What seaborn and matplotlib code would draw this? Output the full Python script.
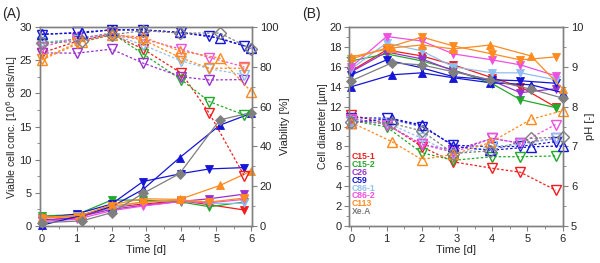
import matplotlib
matplotlib.use("Agg")
import matplotlib.pyplot as plt
import seaborn as sns
from matplotlib.ticker import MultipleLocator

# sampling days: "v" lines and the "^"/diamond lines were sampled at slightly different times
days_v = [0, 1, 2, 2.9, 4, 4.8, 5.8]
days_t = [0, 1.15, 2, 2.9, 3.95, 5.1, 6]

lines_v = ["C15-1", "C15-2", "C26", "C59", "C86-1", "C86-2", "C113"]
lines_t = ["C59", "C113", "Xe.A"]
legend_names = ["C15-1", "C15-2", "C26", "C59", "C86-1", "C86-2", "C113", "Xe.A"]

colors = {"C15-1": "#f21c1c", "C15-2": "#22a82a", "C26": "#9b30d0", "C59": "#1515d8",
          "C86-1": "#8fbff0", "C86-2": "#f050e0", "C113": "#ff8a1e", "Xe.A": "#7f7f7f"}

# (A) viable cell conc. [10^6 cells/mL]
vcd_v = {"C15-1": [0.9, 1.2, 2.8, 3.3, 3.8, 3.2, 2.4],
         "C15-2": [1.5, 1.7, 3.9, 3.9, 3.6, 2.9, 3.6],
         "C26": [0.8, 1.3, 2.5, 3.1, 3.7, 4.1, 4.8],
         "C59": [1.2, 1.8, 3.3, 6.7, 7.9, 8.6, 8.8],
         "C86-1": [1.1, 1.5, 2.8, 3.6, 3.9, 3.4, 3.4],
         "C86-2": [0.7, 1.0, 2.3, 3.0, 3.7, 3.5, 4.0],
         "C113": [1.2, 1.4, 3.0, 3.6, 3.9, 3.6, 4.2]}
vcd_t = {"C59": [0.1, 1.6, 2.9, 5.5, 10.3, 15.2, 17.0],
         "C113": [1.3, 1.6, 3.2, 4.1, 4.0, 6.1, 8.3],
         "Xe.A": [0.5, 0.75, 2.0, 4.9, 7.9, 16.0, 17.1]}

# (A) viability [%]
via_v = {"C15-1": [87, 92.8, 96.5, 89, 76.8, 56.6, 25.2],
         "C15-2": [92, 94, 97, 86.5, 73.5, 62.5, 55.8],
         "C26": [87, 86.9, 88.9, 81.9, 75, 73.4, 73.6],
         "C59": [96.2, 97.3, 98.6, 98.6, 97.3, 95.6, 90.6],
         "C86-1": [92.5, 93.5, 96.5, 91, 83, 79, 76],
         "C86-2": [90, 94.5, 96.5, 94, 88.9, 84.7, 80],
         "C113": [84, 92, 96, 93.6, 84.4, 79.3, 79.3]}
via_t = {"C59": [96.5, 97, 98.6, 98.6, 97.3, 94.4, 89.4],
         "C113": [83.5, 92.5, 96, 95, 88, 84.4, 67.5],
         "Xe.A": [92, 92.8, 96.1, 98.2, 97, 97, 89]}

# (B) cell diameter [um]
dia_v = {"C15-1": [15.6, 17.7, 17.1, 16.2, 14.9, 14.0, 11.95],
         "C15-2": [16.6, 17.3, 16.6, 15.7, 14.3, 12.7, 11.9],
         "C26": [15.5, 17.5, 16.8, 15.6, 14.6, 13.4, 13.8],
         "C59": [15.2, 16.7, 15.9, 15.0, 14.7, 14.6, 14.35],
         "C86-1": [15.8, 18.4, 17.6, 16.0, 15.4, 15.4, 14.7],
         "C86-2": [16.0, 19.05, 18.6, 17.3, 16.7, 16.2, 15.1],
         "C113": [16.8, 17.9, 19.0, 18.1, 17.3, 16.7, 17.0]}
dia_t = {"C59": [14.0, 15.2, 15.4, 14.9, 14.4, 14.2, 13.4],
         "C113": [17.0, 17.9, 18.2, 17.8, 18.2, 17.1, 13.8],
         "Xe.A": [14.6, 16.4, 16.2, 15.5, 14.7, 13.75, 12.85]}

# (B) pH [-]
ph_v = {"C15-1": [7.79, 7.58, 6.99, 6.61, 6.45, 6.35, 5.9],
        "C15-2": [7.65, 7.49, 6.84, 6.65, 6.74, 6.74, 6.76],
        "C26": [7.7, 7.55, 7.05, 6.9, 7.2, 7.08, 7.2],
        "C59": [7.72, 7.71, 7.5, 7.03, 6.99, 7.0, 7.12],
        "C86-1": [7.65, 7.6, 7.2, 6.8, 7.0, 7.05, 7.2],
        "C86-2": [7.7, 7.55, 7.05, 6.85, 7.2, 7.08, 7.55]}
ph_t = {"C59": [7.6, 7.7, 7.54, 7.0, 6.9, 6.99, 7.01],
        "C113": [7.6, 7.12, 6.67, 6.8, 7.1, 7.68, 7.9],
        "Xe.A": [7.62, 7.58, 7.39, 6.82, 6.89, 7.2, 7.24]}

markers_t = {"C59": "^", "C113": "^", "Xe.A": "D"}
SPINE = "#808080"


def draw(ax, x, y, color, marker, filled):
    if filled:
        sns.lineplot(x=x, y=y, ax=ax, color=color, marker=marker, sort=False,
                     markersize=6.3 if marker != "D" else 5.2, markerfacecolor=color,
                     markeredgecolor=color, markeredgewidth=0.6, linewidth=0.9,
                     clip_on=False, legend=False)
    else:
        sns.lineplot(x=x, y=y, ax=ax, color=color, marker=marker, sort=False,
                     markersize=7.8 if marker != "D" else 5.8, markerfacecolor="none",
                     markeredgecolor=color, markeredgewidth=1.0, linewidth=0.9,
                     linestyle=(0, (2, 1.6)), clip_on=False, legend=False)


def style_axes(ax, ax2, xl, yl, y2l):
    for a in (ax, ax2):
        for s in a.spines.values():
            s.set_color(SPINE)
            s.set_linewidth(1.0)
            s.set_visible(True)
        a.tick_params(which="both", color=SPINE, labelsize=8, direction="out", pad=2)
        a.tick_params(which="major", length=3.5)
        a.tick_params(which="minor", length=2)
    ax.set_xlim(-0.06, 6.02)
    ax.xaxis.set_major_locator(MultipleLocator(1))
    ax.xaxis.set_minor_locator(MultipleLocator(0.5))
    ax.set_xlabel(xl, fontsize=8, labelpad=1)
    ax.set_ylabel(yl, fontsize=7.6, labelpad=1)
    ax2.set_ylabel(y2l, fontsize=8, labelpad=1)


sns.set_style("ticks")
plt.rcParams["font.family"] = ["Liberation Sans", "DejaVu Sans"]

fig = plt.figure(figsize=(6.0, 2.63), dpi=100)
axA = fig.add_axes([0.066, 0.141, 0.354, 0.756])
axA2 = axA.twinx()
axB = fig.add_axes([0.582, 0.141, 0.357, 0.756])
axB2 = axB.twinx()

# panel A
for name in lines_v:
    draw(axA, days_v, vcd_v[name], colors[name], "v", True)
    draw(axA2, days_v, via_v[name], colors[name], "v", False)
for name in lines_t:
    draw(axA, days_t, vcd_t[name], colors[name], markers_t[name], True)
    draw(axA2, days_t, via_t[name], colors[name], markers_t[name], False)

axA.set_ylim(0, 30)
axA.yaxis.set_major_locator(MultipleLocator(5))
axA.yaxis.set_minor_locator(MultipleLocator(2.5))
axA2.set_ylim(0, 100)
axA2.yaxis.set_major_locator(MultipleLocator(20))
axA2.yaxis.set_minor_locator(MultipleLocator(10))
style_axes(axA, axA2, "Time [d]", "Viable cell conc. [10$^6$ cells/mL]", "Viability [%]")
axA.yaxis.set_label_coords(-0.092, 0.5)

# panel B
for name in lines_v:
    draw(axB, days_v, dia_v[name], colors[name], "v", True)
    if name in ph_v:
        draw(axB2, days_v, ph_v[name], colors[name], "v", False)
for name in lines_t:
    draw(axB, days_t, dia_t[name], colors[name], markers_t[name], True)
    draw(axB2, days_t, ph_t[name], colors[name], markers_t[name], False)

axB.set_ylim(0, 20)
axB.yaxis.set_major_locator(MultipleLocator(2))
axB.yaxis.set_minor_locator(MultipleLocator(1))
axB2.set_ylim(5, 10)
axB2.yaxis.set_major_locator(MultipleLocator(1))
axB2.yaxis.set_minor_locator(MultipleLocator(0.5))
style_axes(axB, axB2, "Time [d]", "Cell diameter [µm]", "pH [-]")

# colored text legend
for i, name in enumerate(legend_names):
    axB.text(0.012, 0.348 - i * 0.0395, name, transform=axB.transAxes, color=colors[name],
             fontsize=6.2, fontweight="bold", va="center", ha="left")

fig.text(0.003, 0.975, "(A)", fontsize=10, va="top", ha="left")
fig.text(0.503, 0.975, "(B)", fontsize=10, va="top", ha="left")

fig.savefig("out.png", dpi=100)
